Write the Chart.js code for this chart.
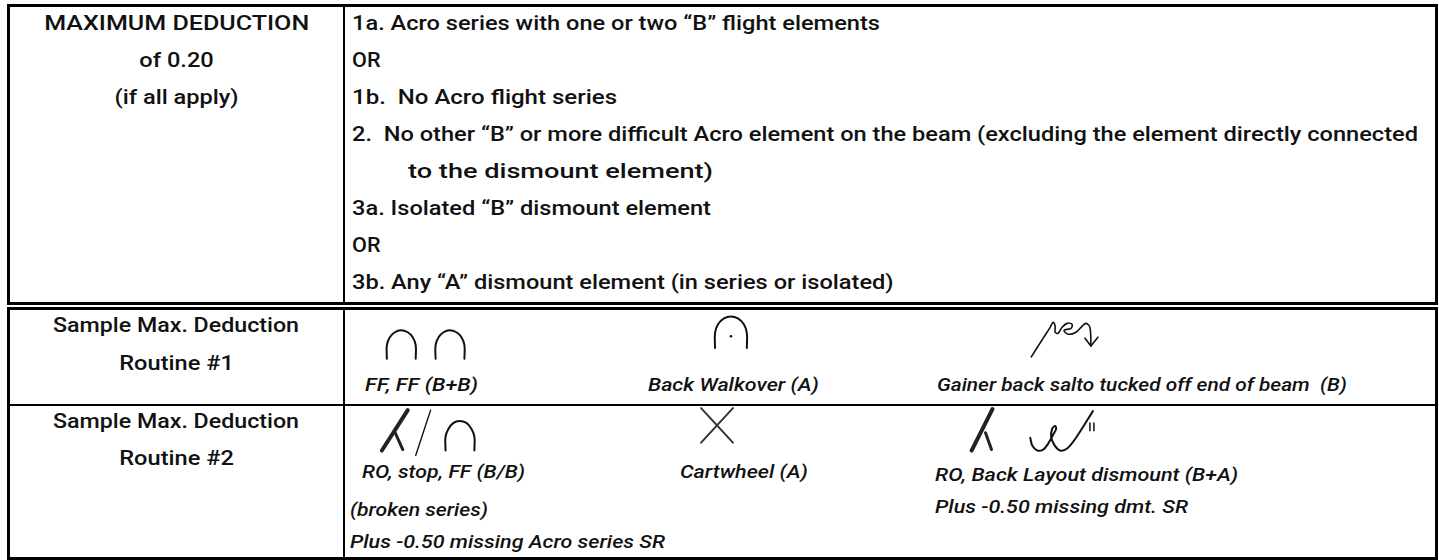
<!DOCTYPE html>
<html>
<head>
<meta charset="utf-8">
<script src="https://cdn.jsdelivr.net/npm/chart.js@4"></script>
<style>
  html, body { margin: 0; padding: 0; background: #fff; }
  body { width: 1439px; height: 560px; position: relative; overflow: hidden;
         font-family: Roboto, "Noto Sans", sans-serif; font-weight: 500; font-size: 20px; color: #111; }
  .box { position: absolute; box-sizing: border-box; border: 3px solid #000; }
  .vline { position: absolute; width: 2px; background: #000; }
  .hline { position: absolute; height: 2px; background: #000; }
  .t { position: absolute; height: 30px; line-height: 30px; white-space: nowrap; }
  .t span { display: inline-block; transform-origin: 0 50%; }
  .c { left: 10px; width: 333px; text-align: center; }
  .c span { transform-origin: 50% 50%; }
  .i { font-style: italic; font-size: 19px; }
  #chartWrap { position: absolute; left: 0; top: 0; width: 1439px; height: 560px; pointer-events: none; }
</style>
</head>
<body>
<!-- table frame -->
<div class="box" style="left:7px;top:4px;width:1431px;height:301px;"></div>
<div class="box" style="left:7px;top:307px;width:1431px;height:253px;"></div>
<div class="vline" style="left:343px;top:6px;height:297px;"></div>
<div class="vline" style="left:343px;top:309px;height:250px;"></div>
<div class="hline" style="left:9px;top:404px;width:1427px;"></div>

<!-- header row -->
<div class="t c" style="top:8px;"><span data-w="265">MAXIMUM DEDUCTION</span></div>
<div class="t c" style="top:45px;"><span>of 0.20</span></div>
<div class="t c" style="top:82px;"><span>(if all apply)</span></div>

<div class="t" style="left:352px;top:8px;"><span>1a. Acro series with one or two “B” flight elements</span></div>
<div class="t" style="left:352px;top:45px;"><span data-k="1.08">OR</span></div>
<div class="t" style="left:352px;top:82px;"><span data-w="265">1b.&nbsp; No Acro flight series</span></div>
<div class="t" style="left:352px;top:119px;"><span data-w="1066">2.&nbsp; No other “B” or more difficult Acro element on the beam (excluding the element directly connected</span></div>
<div class="t" style="left:408px;top:156px;"><span data-w="305">to the dismount element)</span></div>
<div class="t" style="left:352px;top:193px;"><span>3a. Isolated “B” dismount element</span></div>
<div class="t" style="left:352px;top:230px;"><span data-k="1.08">OR</span></div>
<div class="t" style="left:352px;top:267px;"><span>3b. Any “A” dismount element (in series or isolated)</span></div>

<!-- routine 1 -->
<div class="t c" style="top:310px;"><span data-w="246">Sample Max. Deduction</span></div>
<div class="t c" style="top:348px;"><span>Routine #1</span></div>
<div class="t i" style="left:365px;top:370px;"><span data-w="113">FF, FF (B+B)</span></div>
<div class="t i" style="left:648px;top:370px;"><span>Back Walkover (A)</span></div>
<div class="t i" style="left:937px;top:370px;"><span data-w="410">Gainer back salto tucked off end of beam&nbsp; (B)</span></div>

<!-- routine 2 -->
<div class="t c" style="top:406px;"><span data-w="246">Sample Max. Deduction</span></div>
<div class="t c" style="top:443px;"><span>Routine #2</span></div>
<div class="t i" style="left:362px;top:457px;"><span data-w="163">RO, stop, FF (B/B)</span></div>
<div class="t i" style="left:350px;top:495px;"><span data-w="138">(broken series)</span></div>
<div class="t i" style="left:350px;top:527px;"><span data-w="315">Plus -0.50 missing Acro series SR</span></div>
<div class="t i" style="left:680px;top:457px;"><span>Cartwheel (A)</span></div>
<div class="t i" style="left:935px;top:460px;"><span data-w="303">RO, Back Layout dismount (B+A)</span></div>
<div class="t i" style="left:935px;top:492px;"><span data-w="253">Plus -0.50 missing dmt. SR</span></div>

<div id="chartWrap"><canvas id="symbols" width="1439" height="560"></canvas></div>

<script>
// --- symbol strokes, in page pixels (x, y) ---
const FF_ARC_1 = [[385,360],[385,346],[388,338],[393,333],[399,331],[406,333],[411,338],[414,346],[414,360]];
const FF_ARC_2 = [[434,360],[434,346],[437,338],[442,333],[448,331],[455,333],[460,338],[463,346],[463,360]];
const BWO_ARC = [[715,349],[715,334],[718,325],[724,319],[731,317],[738,319],[744,325],[747,334],[747,349]];
const BWO_DOT = [[731,337]];
const GAINER = [[1033,358],[1045,339],[1052,328],[1055,323],[1057,327],[1057,333],[1060,334],[1064,328],[1069,324],[1074,325],[1073,329],[1066,331],[1070,335],[1078,333],[1084,327],[1088,324],[1092,328],[1093,347]];
const GAINER_ARROW = [[1087,339],[1093,347],[1100,338]];

const RO1_MAIN = [[380,453],[406,412]];
const RO1_LEG = [[393,434],[401,452]];
const STOP_SLASH = [[414,458],[429,412]];
const FF_ARC_3 = [[444,453],[444,439],[447,431],[452,425],[458,423],[465,425],[470,431],[473,439],[473,453]];
const CW_1 = [[701,410],[733,445]];
const CW_2 = [[733,410],[701,445]];
const RO2_MAIN = [[973,453],[994,411]];
const RO2_LEG = [[987,435],[993,452]];
const LAYOUT = [[1032,440],[1034,448],[1039,453],[1045,452],[1050,446],[1055,437],[1058,431],[1057,428],[1054,431],[1053,439],[1056,447],[1062,453],[1069,451],[1078,440],[1095,413]];
const MARK_1 = [[1092,425],[1092,433]];
const MARK_2 = [[1096,425],[1096,433]];

// default horizontal stretch for text without a measured target width
const STRETCH_REG = 1.18;
const STRETCH_ITAL = 1.13;

document.querySelectorAll('.t span').forEach(s => {
  const w = s.getBoundingClientRect().width;
  let k;
  if (s.dataset.k) k = +s.dataset.k;
  else if (s.dataset.w) k = +s.dataset.w / w;
  else k = s.parentNode.classList.contains('i') ? STRETCH_ITAL : STRETCH_REG;
  s.style.transform = `scaleX(${k.toFixed(3)})`;
});

function pts(arr) {
  return arr.map(p => ({ x: p[0], y: p[1] }));
}

function stroke(arr, width, tension, color) {
  return {
    data: pts(arr),
    showLine: true,
    pointRadius: 0,
    borderColor: color || '#111',
    borderWidth: width,
    tension: tension,
    borderCapStyle: 'round',
    borderJoinStyle: 'round',
    fill: false
  };
}

const datasets = [
  stroke(FF_ARC_1, 2, 0.4),
  stroke(FF_ARC_2, 2, 0.4),
  stroke(BWO_ARC, 2, 0.4),
  { data: pts(BWO_DOT), showLine: false, pointRadius: 1.3, backgroundColor: '#111', borderWidth: 0 },
  stroke(GAINER, 1.6, 0.35),
  stroke(GAINER_ARROW, 1.6, 0),
  stroke(RO1_MAIN, 4, 0, '#222'),
  stroke(RO1_LEG, 3, 0, '#222'),
  stroke(STOP_SLASH, 1.4, 0),
  stroke(FF_ARC_3, 2, 0.4),
  stroke(CW_1, 2, 0, '#333'),
  stroke(CW_2, 2, 0, '#333'),
  stroke(RO2_MAIN, 4, 0, '#222'),
  stroke(RO2_LEG, 3, 0, '#222'),
  stroke(LAYOUT, 2, 0.35),
  stroke(MARK_1, 1.5, 0),
  stroke(MARK_2, 1.5, 0)
];

new Chart(document.getElementById('symbols'), {
  type: 'scatter',
  data: { datasets },
  options: {
    responsive: false,
    animation: false,
    layout: { padding: 0 },
    plugins: { legend: { display: false }, tooltip: { enabled: false } },
    scales: {
      x: { type: 'linear', min: 0, max: 1439, display: false },
      y: { type: 'linear', min: 0, max: 560, reverse: true, display: false }
    }
  }
});
</script>
</body>
</html>
